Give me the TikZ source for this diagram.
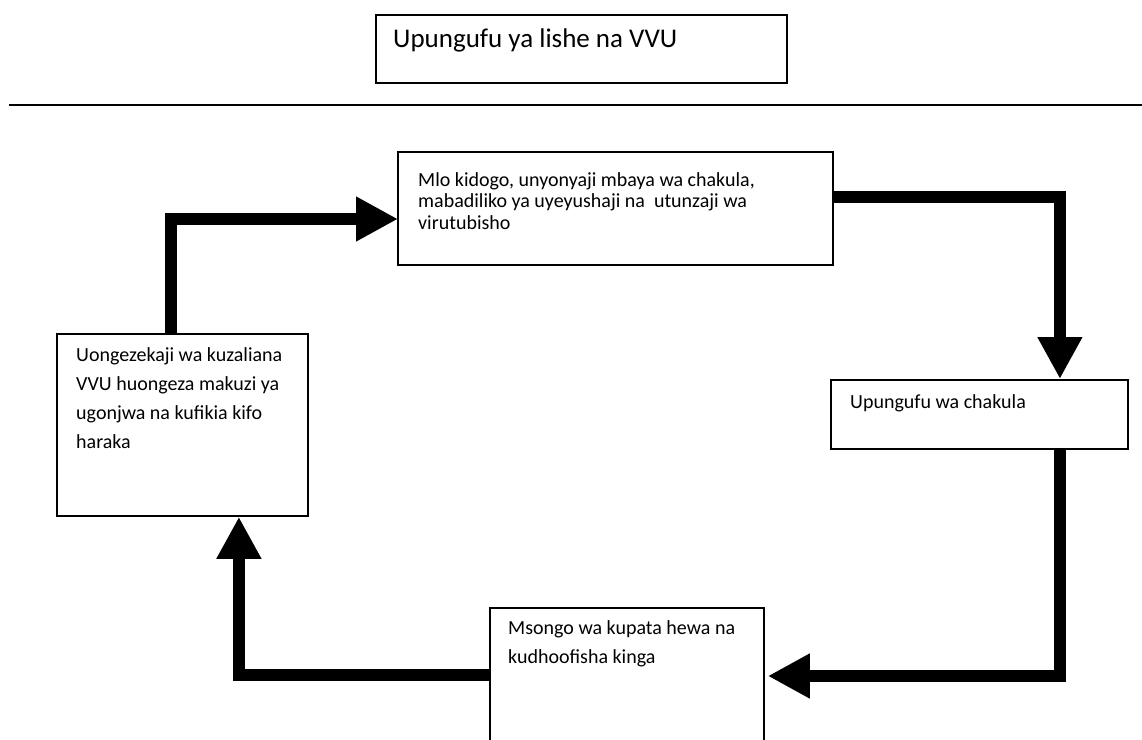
\documentclass[tikz,border=0pt]{standalone}
\usepackage{fontspec}
\setmainfont{Carlito}
\usetikzlibrary{arrows.meta}
\begin{document}
\begin{tikzpicture}[x=1pt,y=-1pt,
  box/.style={draw=black, line width=1.8pt, rectangle, inner sep=0pt, anchor=north west},
  txt/.style={inner sep=0pt, anchor=base west, align=left, font=\fontsize{20}{21}\selectfont},
  flow/.style={line width=12pt, line join=miter, -{Triangle[length=42pt,width=42pt]}}]
\clip (0,0) rectangle (1142,739);
% title
\node[box, minimum width=411pt, minimum height=68pt] (title) at (375,14) {};
\node[inner sep=0pt, anchor=base west, font=\fontsize{27}{30}\selectfont] (titletext) at (393,47) {Upungufu ya lishe na VVU};
\draw[line width=2pt] (9,105) -- (1142,105);
% boxes (text nodes anchored at the baseline of their last line)
\node[box, minimum width=435pt, minimum height=113pt] (top) at (397,151) {};
\node[txt, font=\fontsize{20}{21.5}\selectfont] (toptext) at (418,229) {Mlo kidogo, unyonyaji mbaya wa chakula,\\mabadiliko ya uyeyushaji na~~utunzaji wa\\virutubisho};
\node[box, minimum width=297pt, minimum height=69pt] (rightbox) at (830,379) {};
\node[txt] (righttext) at (850,408) {Upungufu wa chakula};
\node[box, minimum width=274pt, minimum height=160pt] (bottom) at (489,607) {};
\node[txt, font=\fontsize{20}{29}\selectfont] (bottomtext) at (508,663) {Msongo wa kupata hewa na\\kudhoofisha kinga};
\node[box, minimum width=251pt, minimum height=182pt] (leftbox) at (56,333) {};
\node[txt, font=\fontsize{20}{28.7}\selectfont] (lefttext) at (76,448) {Uongezekaji wa kuzaliana\\VVU huongeza makuzi ya\\ugonjwa na kufikia kifo\\haraka};
% connectors
\draw[flow] ([yshift=-46pt]top.north east) -| ([xshift=80.5pt]rightbox.north);
\draw[flow] ([xshift=80.5pt]rightbox.south) |- ([xshift=3pt,yshift=-69pt]bottom.north east);
\draw[flow] ([yshift=-68pt]bottom.north west) -| ([xshift=56.5pt]leftbox.south);
\draw[flow] ([xshift=-11.5pt]leftbox.north) |- ([xshift=1pt,yshift=-68pt]top.north west);
\end{tikzpicture}
\end{document}
